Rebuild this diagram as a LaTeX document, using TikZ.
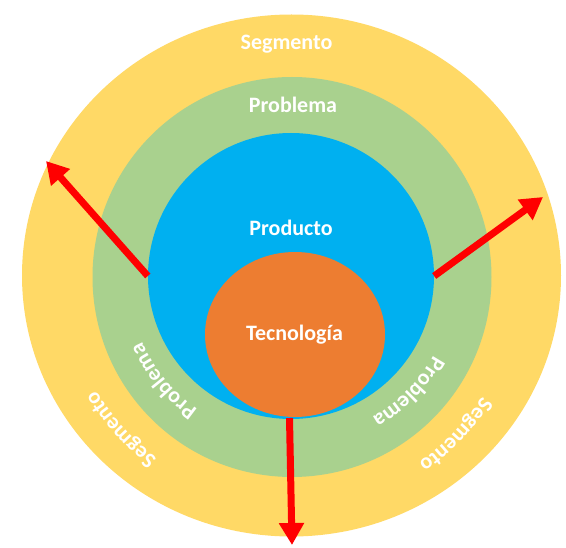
\documentclass[tikz,border=0pt]{standalone}
\usepackage{fontspec}
\setmainfont{Carlito}
\usetikzlibrary{arrows.meta,decorations.text,shapes.geometric}
\definecolor{segY}{HTML}{FFD966}
\definecolor{probG}{HTML}{A9D18E}
\definecolor{prodB}{HTML}{00B0F0}
\definecolor{tecO}{HTML}{ED7D31}
\definecolor{arrR}{HTML}{FF0000}
\newcommand\lblfont{\fontsize{22}{26}\selectfont\bfseries}
\begin{document}
\begin{tikzpicture}[x=1pt,y=1pt,
  ring/.style={ellipse, inner sep=0pt, draw=none},
  lbl/.style={text=white, font=\lblfont, anchor=base, inner sep=0pt},
  redarrow/.style={draw=arrR, line width=7pt, -{Triangle[length=22pt,width=24pt]}},
  arclbl/.style={decorate, decoration={text along path, text align=center, text color=white, text={|\lblfont|#1}}}]
\useasboundingbox (0,0) rectangle (566,-548);
\fill[white] (0,0) rectangle (566,-548);
\node[ring, fill=segY, minimum width=539pt, minimum height=522pt] (seg) at (291.5,-275.5) {};
\node[ring, fill=probG, minimum width=399pt, minimum height=400pt] (prob) at (292,-277) {};
\node[ring, fill=prodB, minimum width=286pt, minimum height=286pt] (prod) at (291,-276) {};
\node[ring, fill=tecO, minimum width=180pt, minimum height=165pt] (tec) at (295,-334.5) {};
\node[lbl] (tSeg) at (286.5,-50) {Segmento};
\node[lbl] (tProb) at (293,-113) {Problema};
\node[lbl] (tProd) at (291,-236) {Producto};
\node[lbl] (tTec) at (294.5,-341) {Tecnología};
\path[arclbl=Problema] ([shift={(249.5:163)}]prod.center) arc[start angle=249.5, end angle=189.5, radius=163];
\path[arclbl=Problema] ([shift={(345.4:163)}]prod.center) arc[start angle=345.4, end angle=285.4, radius=163];
\path[arclbl=Segmento] ([shift={(252:226)}]prod.center) arc[start angle=252, end angle=192, radius=226];
\path[arclbl=Segmento] ([shift={(346:226)}]prod.center) arc[start angle=346, end angle=286, radius=226];
\coordinate (aL) at (46,-161);
\coordinate (aR) at (543,-197);
\coordinate (aB) at (292,-545);
\coordinate (sB) at (289.5,-418);
\draw[redarrow] (prod.west) -- (aL);
\draw[redarrow] (prod.east) -- (aR);
\draw[redarrow] (sB) -- (aB);
\end{tikzpicture}
\end{document}
